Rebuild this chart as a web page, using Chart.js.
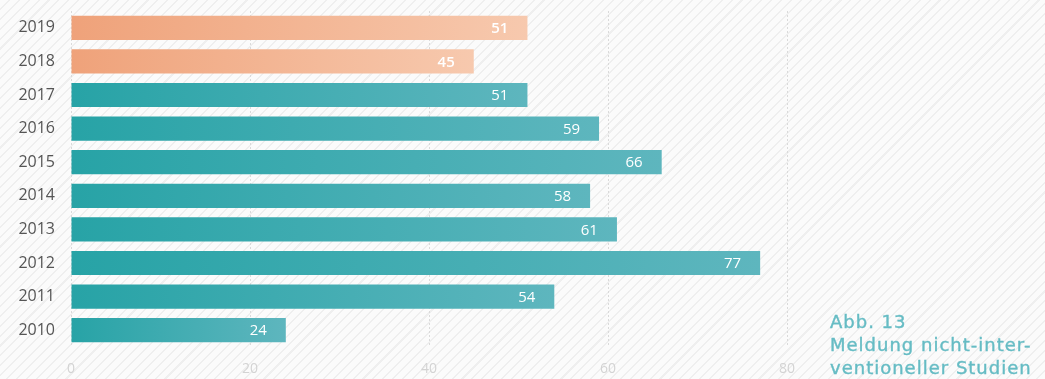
<!DOCTYPE html>
<html lang="de">
<head>
<meta charset="utf-8">
<script src="https://cdn.jsdelivr.net/npm/chart.js@4.4.1/dist/chart.umd.min.js"></script>
<style>
  html, body {
    margin: 0;
    padding: 0;
    width: 1045px;
    height: 379px;
    overflow: hidden;
    background-color: #fbfbfb;
    background-image: repeating-linear-gradient(-45deg, #fbfbfb 0px, #fbfbfb 5.5px, #efefef 5.5px, #efefef 7px);
  }
  #wrap {
    position: relative;
    width: 1045px;
    height: 379px;
  }
  #barChart { display: block; }
  #caption {
    position: absolute;
    left: 830px;
    top: 310px;
    font-family: "DejaVu Sans", sans-serif;
    font-size: 18px;
    line-height: 23px;
    letter-spacing: 1px;
    -webkit-text-stroke: 0.4px #66bcc4;
    color: #66bcc4;
    white-space: nowrap;
  }
</style>
</head>
<body>
<div id="wrap">
  <canvas id="barChart" width="1045" height="379"></canvas>
  <div id="caption">Abb. 13<br>Meldung nicht-inter-<br>ventioneller Studien</div>
</div>
<script>
// Jahre und Anzahl der Meldungen
const years = ["2019", "2018", "2017", "2016", "2015", "2014", "2013", "2012", "2011", "2010"];
const meldungen = [51, 45, 51, 59, 66, 58, 61, 77, 54, 24];
const xTicks = [0, 20, 40, 60, 80];
const highlightYears = ["2019", "2018"];

// Farbverlauf je Balken: links dunkler, rechts heller
function barGradient(context) {
  const chart = context.chart;
  const area = chart.chartArea;
  const isOrange = highlightYears.includes(years[context.dataIndex]);
  if (!area) return isOrange ? "#f2b08c" : "#3fabb0";
  const xScale = chart.scales.x;
  const x0 = xScale.getPixelForValue(0);
  const x1 = xScale.getPixelForValue(meldungen[context.dataIndex]);
  const g = chart.ctx.createLinearGradient(x0, 0, x1, 0);
  if (isOrange) {
    g.addColorStop(0, "#efa27a");
    g.addColorStop(1, "#f7c9ae");
  } else {
    g.addColorStop(0, "#27a3a6");
    g.addColorStop(1, "#5eb6be");
  }
  return g;
}

// Werte innen rechts im Balken
const valueLabels = {
  id: "valueLabels",
  afterDatasetsDraw(chart) {
    const ctx = chart.ctx;
    const meta = chart.getDatasetMeta(0);
    ctx.save();
    ctx.fillStyle = "#ffffff";
    ctx.textAlign = "right";
    ctx.textBaseline = "middle";
    meta.data.forEach((bar, i) => {
      const bold = highlightYears.includes(years[i]);
      ctx.font = (bold ? "600 " : "400 ") + "15px 'Open Sans', sans-serif";
      ctx.fillText(String(meldungen[i]), bar.x - 19, bar.y + 1);
    });
    ctx.restore();
  }
};

function drawChart() {
  const ctx = document.getElementById("barChart");
  new Chart(ctx, {
    type: "bar",
    data: {
      labels: years,
      datasets: [{
        data: meldungen,
        backgroundColor: barGradient,
        borderWidth: 0,
        barPercentage: 0.72,
        categoryPercentage: 1
      }]
    },
    options: {
      indexAxis: "y",
      responsive: false,
      animation: false,
      layout: { padding: { left: 0, right: 258, top: 11, bottom: 0 } },
      plugins: {
        legend: { display: false },
        tooltip: { enabled: false }
      },
      scales: {
        x: {
          min: 0,
          max: 80,
          afterBuildTicks: (scale) => {
            scale.ticks = xTicks.map(v => ({ value: v }));
          },
          afterFit: (scale) => { scale.height = 32; },
          grid: {
            color: "#dadada",
            lineWidth: 1,
            drawTicks: false
          },
          border: { display: false, dash: [2, 2] },
          ticks: {
            color: "#d3d3d3",
            padding: 14,
            font: { family: "'Open Sans', sans-serif", size: 14 }
          }
        },
        y: {
          afterFit: (scale) => {
            scale.width = 71;
            scale.paddingTop = 0;
            scale.paddingBottom = 0;
          },
          grid: { display: false, drawTicks: false },
          border: { display: false },
          ticks: {
            color: "#555555",
            padding: 16,
            font: { family: "'Open Sans', sans-serif", size: 16 }
          }
        }
      }
    },
    plugins: [valueLabels]
  });
}

Promise.all([
  document.fonts.load("400 16px 'Open Sans'"),
  document.fonts.load("600 15px 'Open Sans'")
]).then(drawChart, drawChart);
</script>
</body>
</html>
